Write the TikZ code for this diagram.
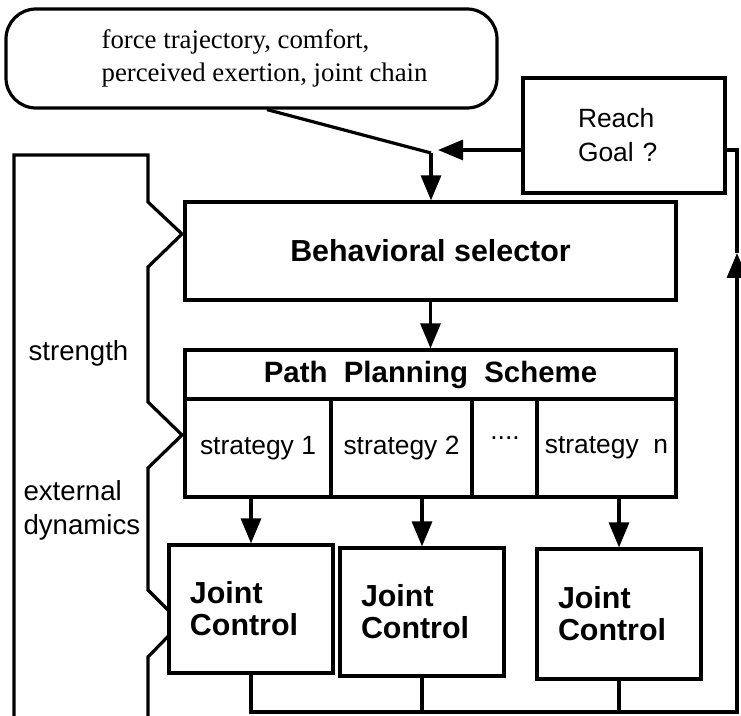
\documentclass[tikz,border=0pt]{standalone}
\usepackage{fontspec}
\setmainfont{Liberation Serif}
\setsansfont{Liberation Sans}
\usepackage{tikz}
\usetikzlibrary{arrows.meta}

\begin{document}
\begin{tikzpicture}[x=0.5pt,y=-0.5pt,line width=1.6pt,
    box/.style={draw,fill=white,inner sep=0pt,font=\sffamily\fontsize{13.2}{17}\selectfont},
    bold/.style={font=\sffamily\bfseries\fontsize{15.2}{16}\selectfont},
    lbl/.style={anchor=west,inner sep=0pt,align=left,font=\sffamily\fontsize{13.8}{17}\selectfont},
    cell/.style={box,minimum height=49pt},
    jcbox/.style={box,bold,minimum width=82pt,minimum height=64pt,text width=61pt,inner xsep=10.5pt,align=left},
    flow/.style={-{Triangle[length=12.5pt,width=10pt]}}]
    \useasboundingbox (0,0) rectangle (741,716);

    % strength / external dynamics bracket
    \draw (14,716) -- (14,155) -- (148,155) -- (148,202) -- (182,234) -- (148,267)
        -- (148,402) -- (182,435) -- (148,468) -- (148,590) -- (181,623) -- (148,657) -- (148,716);
    \node[lbl] (strength) at (27,353) {strength};
    \node[lbl] (extdyn) at (22,510) {external\\dynamics};

    \node[box,rounded corners=15pt,minimum width=245.5pt,minimum height=49.5pt] (criteria) at (251.5,58.5) {};
    \node[anchor=west,inner sep=0pt,align=left,font=\fontsize{13.4}{16.5}\selectfont] (criteriatext) at (100,58.5) {force trajectory, comfort,\\perceived exertion, joint chain};
    \node[box,minimum width=101pt,minimum height=57.5pt,text width=46pt,inner xsep=27.5pt,align=left] (goal) at (624,135.5) {Reach\\Goal ?};

    \node[box,bold,minimum width=245.5pt,minimum height=49pt] (selector) at (430.5,251) {Behavioral selector};
    \node[box,font=\sffamily\bfseries\fontsize{14.7}{16}\selectfont,minimum width=245.5pt,minimum height=24.5pt] (scheme) at (430.5,374.5) {Path\ \ Planning\ \ Scheme};
    \node[cell,minimum width=73pt] (s1) at (258,448) {strategy 1};
    \node[cell,minimum width=70.5pt] (s2) at (401.5,448) {strategy 2};
    \node[cell,minimum width=32.5pt] (s3) at (504.5,448) {};
    \node[inner sep=0pt,font=\sffamily\fontsize{13.2}{17}\selectfont] (dots) at (505,438) {....};
    \node[cell,minimum width=69.5pt] (sn) at (606.5,448) {strategy\ \ n};

    \node[jcbox] (jc1) at (251,609) {Joint\\Control};
    \node[jcbox] (jc2) at (422,612) {Joint\\Control};
    \node[jcbox,minimum height=65pt] (jc3) at (619,614) {Joint\\Control};

    \coordinate (merge) at (431,153);
    \coordinate (busR) at (737,712);
    \coordinate (busT) at (737,150);
    \coordinate (uptip) at (737,253);

    \draw ([xshift=7.75pt]criteria.south) -- (merge);
    \draw[flow] (merge) -- (merge |- selector.north);
    \draw[flow] (goal.west |- busT) -- ([xshift=3.5pt]merge |- busT);
    \draw[flow] (selector.south) -- (scheme.north);
    \draw[flow] (jc1.north |- s1.south) -- (jc1.north);
    \draw[flow] (jc2.north |- s2.south) -- (jc2.north);
    \draw[flow] (jc3.north |- sn.south) -- (jc3.north);

    % feedback loop
    \draw (jc2.south) -- (jc2.south |- busR);
    \draw (jc3.south) -- (jc3.south |- busR);
    \draw[flow] (jc1.south) -- (jc1.south |- busR) -- (busR) -- (uptip);
    \draw (uptip) -- (busT) -- (goal.east |- busT);
\end{tikzpicture}
\end{document}
